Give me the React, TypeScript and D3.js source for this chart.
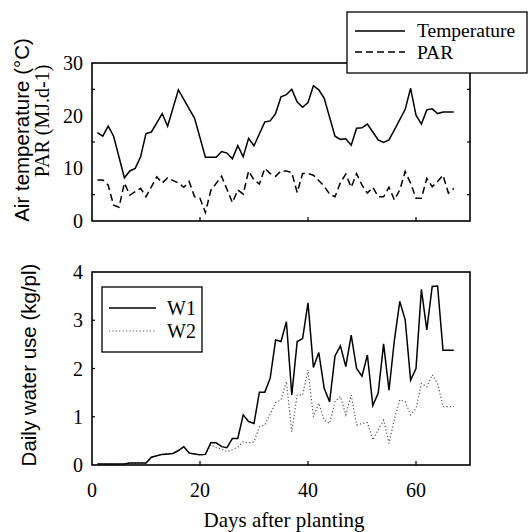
import React from "react";
import * as d3 from "d3";

const tempDays = [1,2,3,4,6,7,8,9,10,11,13,14,16,19,21,23,24,25,26,27,28,29,30,32,33,34,35,36,37,38,39,40,41,42,43,45,46,47,48,49,50,51,52,53,54,55,56,58,59,60,61,62,63,64,65,67];
const tempVals = [16.8,16.1,18.0,16.1,8.2,9.5,10.0,12.2,16.6,16.9,20.4,18.0,24.9,19.5,12.1,12.1,13.2,12.9,11.8,14.3,12.2,15.7,14.3,18.8,19.0,20.4,23.6,24.0,25.0,22.6,21.6,22.5,25.7,24.9,23.3,16.1,15.5,15.6,14.4,17.6,17.7,18.4,16.9,15.4,14.9,15.4,17.3,21.2,25.2,20.1,18.4,21.1,21.3,20.4,20.7,20.7];

const parDays = [1,2,3,4,5,6,7,9,10,12,13,14,16,17,18,19,20,21,22,24,26,27,28,29,30,31,32,33,34,35,36,37,38,39,40,41,43,44,45,46,47,48,49,50,51,52,53,54,55,56,57,58,59,60,61,62,63,64,65,66,67];
const parVals = [7.8,7.8,6.8,3.0,2.6,7.2,4.9,6.2,4.6,8.4,7.2,8.2,7.2,6.4,7.5,4.6,4.3,1.6,5.8,8.5,3.5,5.9,5.1,9.5,7.8,7.0,10.0,9.0,8.5,9.5,9.5,9.2,5.4,9.0,9.0,8.7,6.6,5.1,4.6,7.3,8.9,6.4,9.0,6.8,5.3,6.4,4.6,4.6,6.4,4.0,5.9,9.4,7.2,4.3,4.3,8.1,6.5,7.5,8.7,5.3,6.2];

const wDays = [1,6,7,10,11,12,13,15,16,17,18,19,20,21,22,23,24,25,26,27,28,29,30,31,32,33,34,35,36,37,38,39,40,41,42,43,44,45,46,47,48,49,50,51,52,53,54,55,56,57,58,59,60,61,62,63,64,65,67];
const w1Vals = [0.02,0.02,0.04,0.04,0.16,0.19,0.22,0.24,0.30,0.38,0.25,0.23,0.21,0.22,0.46,0.46,0.38,0.36,0.55,0.55,1.04,0.90,0.86,1.51,1.51,1.80,2.59,2.56,2.97,1.45,2.56,2.62,3.36,2.02,2.33,1.59,1.31,2.26,2.47,2.04,2.69,2.00,1.84,2.28,1.23,1.49,2.51,1.55,2.59,3.39,3.01,1.76,2.00,3.64,2.80,3.70,3.71,2.38,2.38];
const w2Vals = [0.02,0.02,0.04,0.04,0.16,0.19,0.22,0.24,0.30,0.38,0.25,0.23,0.21,0.22,0.42,0.36,0.33,0.28,0.32,0.37,0.48,0.46,0.48,0.79,0.83,1.06,1.29,1.35,1.73,0.69,1.45,1.45,1.97,1.00,1.28,0.93,0.86,1.31,1.42,1.04,1.45,0.83,0.86,0.88,0.52,0.73,0.93,0.45,0.95,1.35,1.31,1.04,1.17,1.69,1.62,1.87,1.69,1.21,1.21];

const xTickVals = [0, 20, 40, 60];
const topTickVals = [0, 10, 20, 30];
const topMinor = [5, 15, 25];
const botTickVals = [0, 1, 2, 3, 4];

const L = 92, R = 470;
const T1 = 63, B1 = 221;
const T2 = 272, B2 = 465;

export default function App() {
  const x = d3.scaleLinear().domain([0, 70]).range([L, R]);
  const yTop = d3.scaleLinear().domain([0, 30]).range([B1, T1]);
  const yBot = d3.scaleLinear().domain([0, 4]).range([B2, T2]);

  const lineT = d3.line<number>().x((_, i) => x(tempDays[i])).y((v) => yTop(v));
  const lineP = d3.line<number>().x((_, i) => x(parDays[i])).y((v) => yTop(v));
  const lineW = d3.line<number>().x((_, i) => x(wDays[i])).y((v) => yBot(v));

  const serif = "'Liberation Serif', 'Times New Roman', serif";
  const sans = "'Liberation Sans', Arial, sans-serif";
  const fs = 20;
  const sw = 1.5;

  return (
    <svg width={528} height={532} style={{ position: "absolute", left: 0, top: 0, background: "#fff" }}>
      <rect x={0} y={0} width={528} height={532} fill="#fff" />
      {/* Top panel */}
      <rect x={L} y={T1} width={R - L} height={B1 - T1} fill="none" stroke="#000" strokeWidth={1.6} />
      {xTickVals.slice(1).map((t) => (
        <line key={"xt1" + t} x1={x(t)} x2={x(t)} y1={B1} y2={B1 - 4} stroke="#000" strokeWidth={1.2} />
      ))}
      {topMinor.map((t) => (
        <g key={"ym" + t}>
          <line x1={L} x2={L + 3} y1={yTop(t)} y2={yTop(t)} stroke="#000" strokeWidth={1.2} />
          <line x1={R} x2={R - 3} y1={yTop(t)} y2={yTop(t)} stroke="#000" strokeWidth={1.2} />
        </g>
      ))}
      {topTickVals.map((t) => (
        <text key={"yl1" + t} x={L - 9} y={yTop(t) + 7} textAnchor="end" fontFamily={serif} fontSize={fs}>{t}</text>
      ))}
      <path d={lineT(tempVals) || ""} fill="none" stroke="#000" strokeWidth={sw} />
      <path d={lineP(parVals) || ""} fill="none" stroke="#000" strokeWidth={sw} strokeDasharray="7,4" />

      {/* Top legend */}
      <rect x={347} y={12} width={180} height={61} fill="#fff" stroke="#000" strokeWidth={1.3} />
      <line x1={355} x2={405} y1={31} y2={31} stroke="#000" strokeWidth={sw} />
      <line x1={355} x2={405} y1={52} y2={52} stroke="#000" strokeWidth={sw} strokeDasharray="7,4" />
      <text x={417} y={37} fontFamily={serif} fontSize={19.5}>Temperature</text>
      <text x={417} y={59} fontFamily={serif} fontSize={19.5}>PAR</text>

      {/* Bottom panel */}
      <rect x={L} y={T2} width={R - L} height={B2 - T2} fill="none" stroke="#000" strokeWidth={1.6} />
      {xTickVals.slice(1).map((t) => (
        <line key={"xt2" + t} x1={x(t)} x2={x(t)} y1={B2} y2={B2 - 4} stroke="#000" strokeWidth={1.2} />
      ))}
      {[1, 2, 3].map((t) => (
        <line key={"yb" + t} x1={L} x2={L + 3} y1={yBot(t)} y2={yBot(t)} stroke="#000" strokeWidth={1.2} />
      ))}
      {botTickVals.map((t) => (
        <text key={"yl2" + t} x={L - 9} y={yBot(t) + 7} textAnchor="end" fontFamily={serif} fontSize={fs}>{t}</text>
      ))}
      {xTickVals.map((t) => (
        <text key={"xl" + t} x={x(t)} y={497} textAnchor="middle" fontFamily={serif} fontSize={fs}>{t}</text>
      ))}
      <path d={lineW(w2Vals) || ""} fill="none" stroke="#555" strokeWidth={1.2} strokeDasharray="1.2,2.2" />
      <path d={lineW(w1Vals) || ""} fill="none" stroke="#000" strokeWidth={sw} />

      {/* Bottom legend */}
      <rect x={102} y={287} width={100} height={65} fill="#fff" stroke="#000" strokeWidth={1.3} />
      <line x1={109} x2={156} y1={308} y2={308} stroke="#000" strokeWidth={sw} />
      <line x1={109} x2={156} y1={331} y2={331} stroke="#555" strokeWidth={1.2} strokeDasharray="1.2,2.2" />
      <text x={167} y={315} fontFamily={serif} fontSize={fs}>W1</text>
      <text x={167} y={338} fontFamily={serif} fontSize={fs}>W2</text>

      {/* Axis titles */}
      <text x={284} y={527} textAnchor="middle" fontFamily={serif} fontSize={21}>Days after planting</text>
      <text transform={`translate(29,130) rotate(-90)`} textAnchor="middle" fontFamily={sans} fontSize={20.5}>Air temperature (°C)</text>
      <text transform={`translate(49,121) rotate(-90)`} textAnchor="middle" fontFamily={serif} fontSize={fs}>PAR (MJ.d-1)</text>
      <text transform={`translate(36,365) rotate(-90)`} textAnchor="middle" fontFamily={sans} fontSize={20.5}>Daily water use (kg/pl)</text>
    </svg>
  );
}
